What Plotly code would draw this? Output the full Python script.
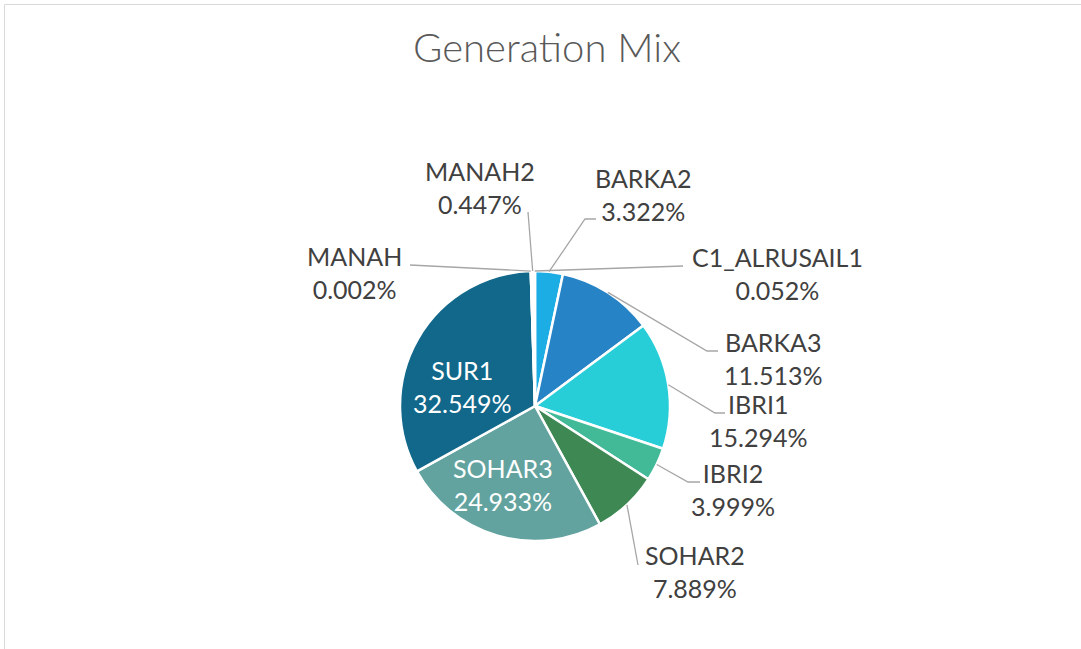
import math
import plotly.graph_objects as go

# ---- data (clockwise from 12 o'clock) ----
labels = ["BARKA2", "BARKA3", "IBRI1", "IBRI2", "SOHAR2", "SOHAR3",
          "SUR1", "MANAH", "MANAH2", "C1_ALRUSAIL1"]
values = [3.322, 11.513, 15.294, 3.999, 7.889, 24.933,
          32.549, 0.002, 0.447, 0.052]
colors = ["#1CADE4", "#2683C6", "#27CED7", "#42BA97", "#3E8853", "#62A39F",
          "#11688A", "#174F77", "#FFFFFF", "#287055"]
title_text = "Generation Mix"

# ---- layout geometry (pixels) ----
W, H = 1081, 649
CX, CY, R = 535, 406, 135
inside_labels = {"SUR1", "SOHAR3"}
label_pos = {
    "MANAH2": (480, 188), "MANAH": (354, 272), "BARKA2": (643, 195),
    "C1_ALRUSAIL1": (777, 274), "BARKA3": (773, 358), "IBRI1": (758, 421),
    "IBRI2": (733, 489), "SOHAR2": (695, 571), "SUR1": (462, 386),
    "SOHAR3": (503, 484),
}
# leader line points after the slice edge point
leader_pts = {
    "MANAH2": [(528, 212)],
    "MANAH": [(410, 265)],
    "BARKA2": [(585, 219), (596, 219)],
    "C1_ALRUSAIL1": [(683, 266)],
    "BARKA3": [(707, 351), (718, 351)],
    "IBRI1": [(715, 413), (725, 413)],
    "IBRI2": [(688, 482), (700, 482)],
    "SOHAR2": [(638, 565)],
}


def px(x):
    return x / W


def py(y):
    return 1 - y / H


FONT = "Lato, 'Noto Sans', sans-serif"

fig = go.Figure()
fig.add_trace(go.Pie(
    labels=labels, values=values, sort=False, direction="clockwise",
    rotation=0, textinfo="none", hoverinfo="label+percent",
    marker=dict(colors=colors, line=dict(color="#FFFFFF", width=2.5)),
    domain=dict(x=[px(CX - R), px(CX + R)], y=[py(CY + R), py(CY - R)]),
    showlegend=False,
))

total = sum(values)
shapes = []
annotations = []
cum = 0.0
for name, v in zip(labels, values):
    mid = (cum + v / 2) / total * 2 * math.pi
    cum += v
    lx, ly = label_pos[name]
    inside = name in inside_labels
    annotations.append(dict(
        x=px(lx), y=py(ly), xref="paper", yref="paper",
        text=f"{name}<br>{v:.3f}%", showarrow=False,
        xanchor="center", yanchor="middle", align="center",
        font=dict(family=FONT, size=25, weight=400,
                  color="#FFFFFF" if inside else "#404040"),
    ))
    if name in leader_pts:
        sx = CX + R * math.sin(mid)
        sy = CY - R * math.cos(mid)
        pts = [(sx, sy)] + leader_pts[name]
        path = "M " + " L ".join(f"{px(x):.5f},{py(y):.5f}" for x, y in pts)
        shapes.append(dict(type="path", path=path, xref="paper", yref="paper",
                           line=dict(color="#A6A6A6", width=1.3)))

# chart area border (left + top visible)
shapes.append(dict(type="line", xref="paper", yref="paper",
                   x0=px(4.5), y0=py(4.5), x1=px(4.5), y1=py(H),
                   line=dict(color="#D9D9D9", width=1)))
shapes.append(dict(type="line", xref="paper", yref="paper",
                   x0=px(4.5), y0=py(4.5), x1=px(W), y1=py(4.5),
                   line=dict(color="#D9D9D9", width=1)))

fig.update_layout(
    width=W, height=H, margin=dict(l=0, r=0, t=0, b=0),
    paper_bgcolor="#FFFFFF", plot_bgcolor="#FFFFFF",
    title=dict(text=title_text, x=px(547), y=py(48), xanchor="center",
               yanchor="middle", xref="paper", yref="paper",
               font=dict(family=FONT, size=40, weight=300, color="#595959")),
    shapes=shapes, annotations=annotations,
)

fig.write_html("out.html", config={"displayModeBar": False},
               post_script="document.body.style.margin='0';"
                           "document.body.style.overflow='hidden';")
